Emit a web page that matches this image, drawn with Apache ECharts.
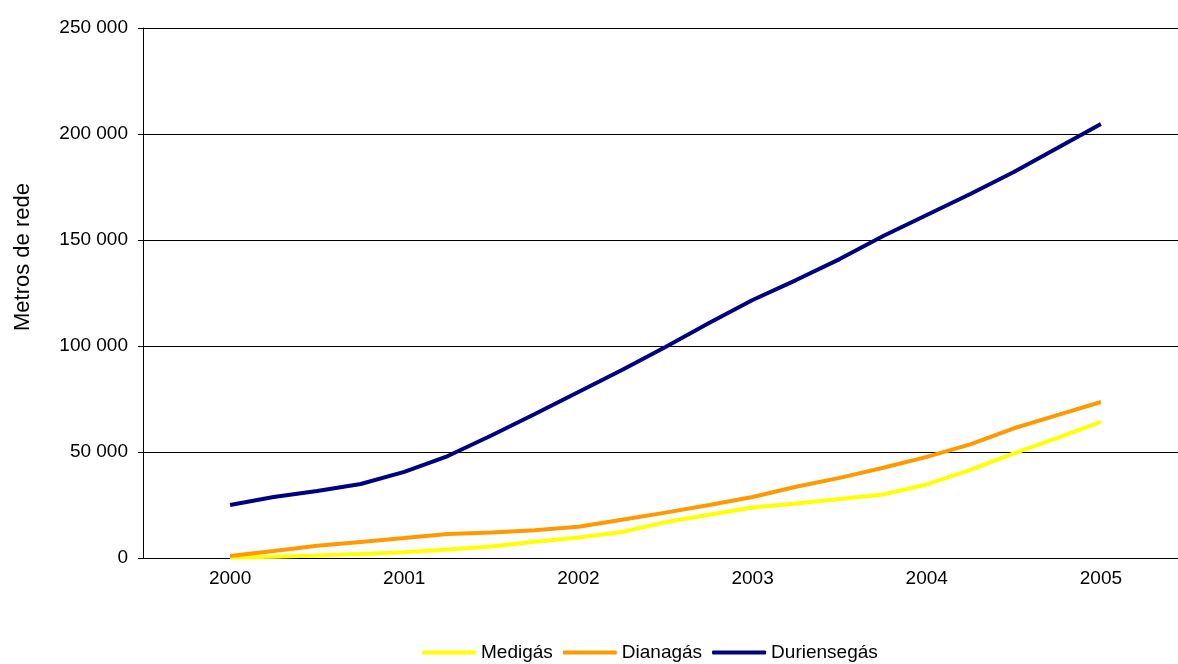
<!DOCTYPE html>
<html>
<head>
    <meta charset="UTF-8">
    <title>Metros de rede</title>
    <script src="https://cdn.jsdelivr.net/npm/echarts@6/dist/echarts.min.js"></script>
    <style>
        body, html {
            margin: 0;
            padding: 0;
            height: 100%;
            width: 100%;
            background: #fff;
        }

        #chart {
            width: 1178px;
            height: 664px;
        }
    </style>
</head>
<body>
<div id="chart"></div>
<script>
    // anos (eixo das categorias)
    var anos = ['2000', '2001', '2002', '2003', '2004', '2005'];
    // pontos trimestrais
    var periodos = [2000, 2000.25, 2000.5, 2000.75, 2001, 2001.25, 2001.5, 2001.75,
        2002, 2002.25, 2002.5, 2002.75, 2003, 2003.25, 2003.5, 2003.75,
        2004, 2004.25, 2004.5, 2004.75, 2005];
    var medigas = [200, 600, 1200, 1900, 2700, 4000, 5400, 7700, 9700, 12300, 16900,
        20400, 23800, 25700, 27800, 30000, 34700, 41600, 49400, 56700, 64200];
    var dianagas = [900, 3300, 5800, 7600, 9400, 11300, 12000, 13100, 14700, 18000, 21400,
        25000, 28800, 33600, 37800, 42600, 47700, 53600, 61200, 67400, 73600];
    var duriensegas = [25000, 28800, 31600, 34900, 40600, 48100, 57800, 67900, 78300, 88700, 99500,
        110800, 121700, 131100, 141000, 151900, 161800, 171700, 182100, 193400, 204700];
    var yTicks = [0, 50000, 100000, 150000, 200000, 250000];

    var fonte = '"Liberation Sans", Arial, sans-serif';

    function pares(vals) {
        return periodos.map(function (p, i) {
            return [p, vals[i]];
        });
    }

    function serie(nome, vals, cor) {
        return {
            name: nome,
            type: 'line',
            xAxisIndex: 1,
            data: pares(vals),
            symbol: 'none',
            lineStyle: {color: cor, width: 4},
            itemStyle: {color: cor},
            animation: false
        };
    }

    var chart = echarts.init(document.getElementById('chart'), null, {renderer: 'canvas'});
    chart.setOption({
        animation: false,
        // a área do gráfico passa um pouco da margem direita (como no original)
        grid: {left: 143, width: 1045, top: 28, height: 530, outerBoundsMode: 'none'},
        legend: {
            left: 417,
            top: 638,
            icon: 'roundRect',
            itemWidth: 54,
            itemHeight: 4,
            itemGap: 10,
            textStyle: {fontFamily: fonte, fontSize: 19, color: '#000'},
            data: ['Medigás', 'Dianagás', 'Duriensegás']
        },
        graphic: [{
            type: 'text',
            x: 23,
            y: 257,
            rotation: Math.PI / 2,
            style: {
                text: 'Metros de rede',
                fontFamily: fonte,
                fontSize: 22,
                fill: '#000',
                textAlign: 'center',
                textVerticalAlign: 'middle'
            }
        }],
        xAxis: [{
            type: 'category',
            data: anos,
            boundaryGap: true,
            axisLine: {lineStyle: {color: '#000', width: 1}},
            axisTick: {length: 6, lineStyle: {color: '#808080'}},
            axisLabel: {fontFamily: fonte, fontSize: 19, color: '#000', margin: 11},
            splitLine: {show: false}
        }, {
            type: 'value',
            min: 1999.5,
            max: 2005.5,
            show: false,
            splitLine: {show: false}
        }],
        yAxis: {
            type: 'value',
            min: yTicks[0],
            max: yTicks[yTicks.length - 1],
            interval: yTicks[1] - yTicks[0],
            axisLine: {show: true, lineStyle: {color: '#000', width: 1}},
            axisTick: {show: true, length: 5, lineStyle: {color: '#000'}},
            axisLabel: {
                fontFamily: fonte, fontSize: 19, color: '#000', margin: 15,
                formatter: function (v) {
                    return String(v).replace(/\B(?=(\d{3})+(?!\d))/g, ' ');
                }
            },
            splitLine: {lineStyle: {color: '#000', width: 1}}
        },
        series: [
            serie('Medigás', medigas, '#FFFF00'),
            serie('Dianagás', dianagas, '#FF9900'),
            serie('Duriensegás', duriensegas, '#000080')
        ]
    });
</script>
</body>
</html>
